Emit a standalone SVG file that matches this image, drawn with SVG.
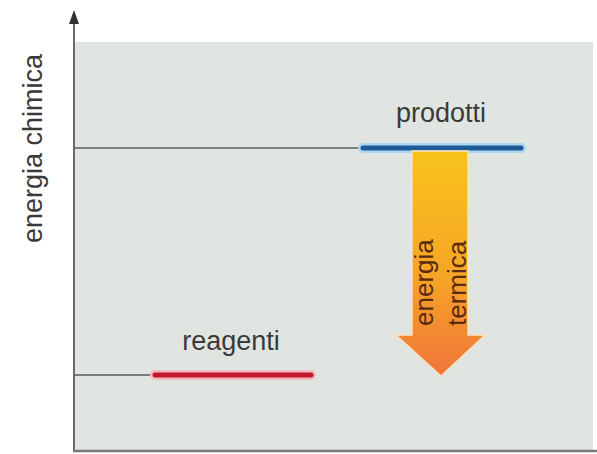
<svg xmlns="http://www.w3.org/2000/svg" width="597" height="454" viewBox="0 0 597 454">
<defs>
<style>
.lbl{font-family:"Liberation Sans",Arial,sans-serif;fill:#3a3a3a;font-size:27px}
.arr{font-family:"Liberation Sans",Arial,sans-serif;fill:#5a2a12;font-size:26px}
.thin{stroke:#5a5a5a;stroke-width:1.5;fill:none}
</style>
<linearGradient id="g" x1="0" y1="0" x2="0" y2="1">
<stop offset="0" stop-color="#f8c31c"/>
<stop offset="0.55" stop-color="#f6a526"/>
<stop offset="1" stop-color="#f0743a"/>
</linearGradient>
<marker id="ah" markerWidth="10" markerHeight="12" refX="5" refY="11" orient="auto" markerUnits="userSpaceOnUse" viewBox="0 0 10 12">
<path d="M0,12 L5,0 L10,12 Z" fill="#333"/>
</marker>
</defs>
<rect width="597" height="454" fill="#ffffff"/>
<rect x="75" y="42" width="518" height="408" fill="#e1e5e1"/>
<g id="axes">
<line x1="74" y1="452" x2="74" y2="22" stroke="#6a6a6a" stroke-width="2"/>
<path d="M69,24 L74,10 L79,24 Z" fill="#333"/>
<line x1="73" y1="451" x2="597" y2="451" stroke="#7a7a7a" stroke-width="2.5"/>
</g>
<g id="ylabel"><text class="lbl" transform="translate(42,243) rotate(-90)">energia chimica</text></g>
<g id="connectors">
<line class="thin" x1="75" y1="148" x2="365" y2="148"/>
<line class="thin" x1="75" y1="375" x2="156" y2="375"/>
</g>
<g id="prodotti">
<line x1="363" y1="148" x2="521" y2="148" stroke="#a9d6f0" stroke-width="10" stroke-linecap="round"/>
<line x1="363" y1="148" x2="521" y2="148" stroke="#1d5b96" stroke-width="5" stroke-linecap="round"/>
<text class="lbl" x="441" y="122" text-anchor="middle">prodotti</text>
</g>
<g id="reagenti">
<line x1="155" y1="375" x2="311" y2="375" stroke="#f4b9bf" stroke-width="10" stroke-linecap="round"/>
<line x1="155" y1="375" x2="311" y2="375" stroke="#c3172c" stroke-width="5" stroke-linecap="round"/>
<text class="lbl" x="231" y="350" text-anchor="middle">reagenti</text>
</g>
<g id="energia-termica">
<path d="M412,151 L468,151 L468,335 L485,335 L441,376 L396,335 L412,335 Z" fill="url(#g)" stroke="#f6e2c2" stroke-width="1.5"/>
<text class="arr" transform="translate(433,326) rotate(-90)">energia</text>
<text class="arr" transform="translate(466,326) rotate(-90)">termica</text>
</g>
</svg>
